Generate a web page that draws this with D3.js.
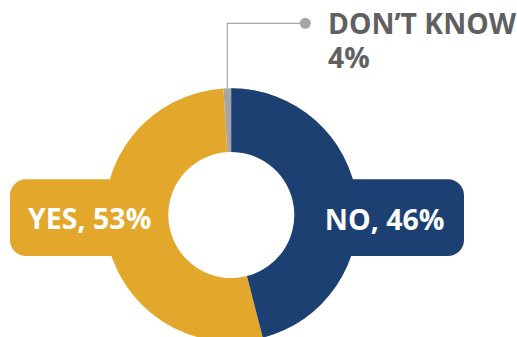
<!DOCTYPE html>
<html>
<head>
<meta charset="utf-8">
<script src="https://cdn.jsdelivr.net/npm/d3@7"></script>
<style>
  html, body { margin: 0; padding: 0; background: #fff; }
  svg { display: block; }
  text { font-family: "Open Sans", "Noto Sans", sans-serif; font-weight: 700; }
</style>
</head>
<body>
<svg id="chart" width="517" height="337"></svg>
<script>
// Survey answers, in percent
const categories = ["NO", "YES", "DON’T KNOW"];
const values = [46, 53, 4];
const colors = ["#1d4073", "#e3a82b", "#a6a6a6"];

const svg = d3.select("#chart");
const cx = 231.3, cy = 215;
const rOuter = 126.7, rInner = 63;

// Each answer occupies its percentage of the full circle, starting at 12 o'clock
const angle = d3.scaleLinear().domain([0, 100]).range([0, 2 * Math.PI]);
const ends = Array.from(d3.cumsum(values));
const slices = values.map((v, i) => ({
  name: categories[i],
  value: v,
  color: colors[i],
  startAngle: angle(i === 0 ? 0 : ends[i - 1]),
  endAngle: angle(ends[i])
}));

const arc = d3.arc().innerRadius(rInner).outerRadius(rOuter);

// Label boxes sit behind the ring
const boxes = [
  { slice: 1, x0: 10, x1: 166, tx: 89.7, ty: 228.5 },
  { slice: 0, x0: 303, x1: 464, tx: 384.7, ty: 229.5 }
];
const boxTop = 179.3, boxBottom = 256;
svg.selectAll("rect.box")
  .data(boxes)
  .join("rect")
  .attr("class", "box")
  .attr("x", d => d.x0)
  .attr("y", boxTop)
  .attr("width", d => d.x1 - d.x0)
  .attr("height", boxBottom - boxTop)
  .attr("rx", 16)
  .attr("fill", d => slices[d.slice].color);

// Ring: the last slice goes underneath so the first slice stays on top
const g = svg.append("g").attr("transform", `translate(${cx},${cy})`);
g.selectAll("path")
  .data(slices.slice().reverse())
  .join("path")
  .attr("d", arc)
  .attr("fill", d => d.color);

// Box labels
svg.selectAll("text.boxlabel")
  .data(boxes)
  .join("text")
  .attr("class", "boxlabel")
  .attr("x", d => d.tx)
  .attr("y", d => d.ty)
  .attr("text-anchor", "middle")
  .attr("fill", "#fff")
  .attr("font-size", 28.5)
  .text(d => `${slices[d.slice].name}, ${slices[d.slice].value}%`);

// Callout for the small slice
const dk = slices[2];
const midA = (dk.startAngle + angle(100)) / 2;
const px = cx + rOuter * Math.sin(midA);
const py = cy - rOuter * Math.cos(midA);
const dotX = 305.3, dotY = 23.3;
svg.append("path")
  .attr("d", `M${px},${py}V${dotY}H${dotX}`)
  .attr("fill", "none")
  .attr("stroke", "#a6a6a6")
  .attr("stroke-width", 1.2);
svg.append("circle")
  .attr("cx", dotX)
  .attr("cy", dotY)
  .attr("r", 5.5)
  .attr("fill", "#a6a6a6");

const callout = svg.append("text")
  .attr("x", 328)
  .attr("y", 34.3)
  .attr("fill", "#606060")
  .attr("font-size", 28.3);
callout.append("tspan").attr("x", 328).text(dk.name);
callout.append("tspan").attr("x", 328).attr("dy", 34).text(`${dk.value}%`);
</script>
</body>
</html>
